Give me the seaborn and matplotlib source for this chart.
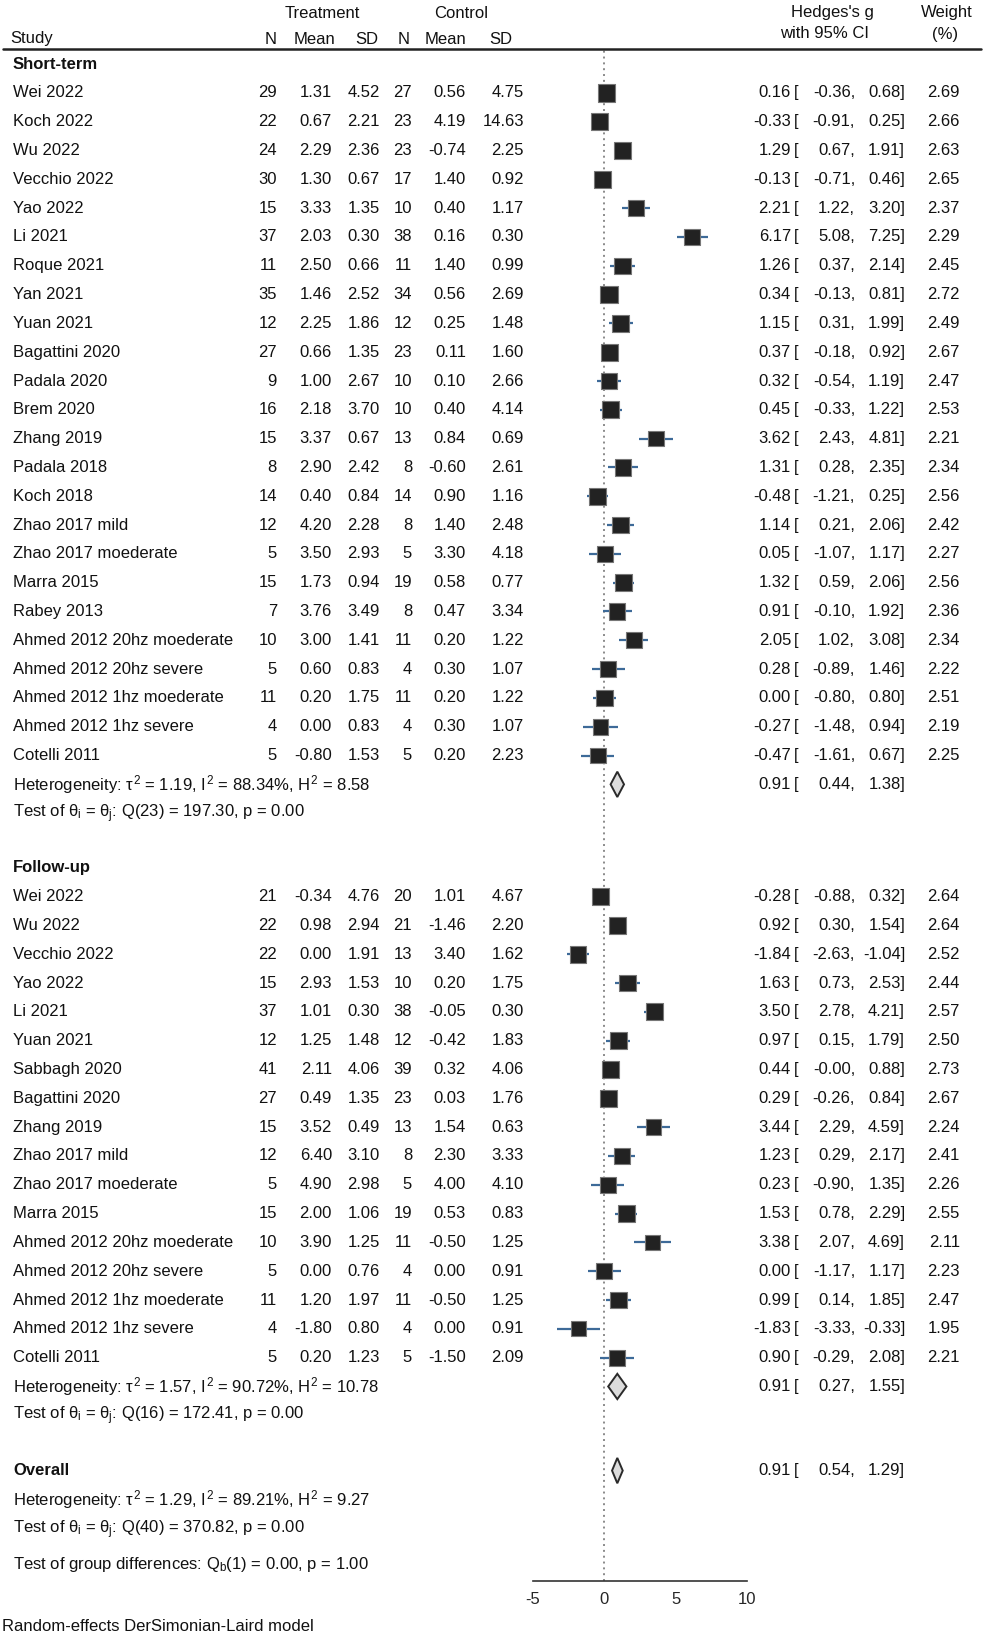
import numpy as np
import pandas as pd
import matplotlib
matplotlib.use("Agg")
import matplotlib.pyplot as plt
import matplotlib.transforms as mtransforms
import seaborn as sns

### data

short_study = ["Wei 2022", "Koch 2022", "Wu 2022", "Vecchio 2022", "Yao 2022", "Li 2021",
               "Roque 2021", "Yan 2021", "Yuan 2021", "Bagattini 2020", "Padala 2020",
               "Brem 2020", "Zhang 2019", "Padala 2018", "Koch 2018", "Zhao 2017 mild",
               "Zhao 2017 moederate", "Marra 2015", "Rabey 2013", "Ahmed 2012 20hz moederate",
               "Ahmed 2012 20hz severe", "Ahmed 2012 1hz moederate", "Ahmed 2012 1hz severe",
               "Cotelli 2011"]
short_n1 = [29, 22, 24, 30, 15, 37, 11, 35, 12, 27, 9, 16, 15, 8, 14, 12, 5, 15, 7, 10, 5, 11, 4, 5]
short_m1 = [1.31, 0.67, 2.29, 1.30, 3.33, 2.03, 2.50, 1.46, 2.25, 0.66, 1.00, 2.18, 3.37, 2.90,
            0.40, 4.20, 3.50, 1.73, 3.76, 3.00, 0.60, 0.20, 0.00, -0.80]
short_sd1 = [4.52, 2.21, 2.36, 0.67, 1.35, 0.30, 0.66, 2.52, 1.86, 1.35, 2.67, 3.70, 0.67, 2.42,
             0.84, 2.28, 2.93, 0.94, 3.49, 1.41, 0.83, 1.75, 0.83, 1.53]
short_n2 = [27, 23, 23, 17, 10, 38, 11, 34, 12, 23, 10, 10, 13, 8, 14, 8, 5, 19, 8, 11, 4, 11, 4, 5]
short_m2 = [0.56, 4.19, -0.74, 1.40, 0.40, 0.16, 1.40, 0.56, 0.25, 0.11, 0.10, 0.40, 0.84, -0.60,
            0.90, 1.40, 3.30, 0.58, 0.47, 0.20, 0.30, 0.20, 0.30, 0.20]
short_sd2 = [4.75, 14.63, 2.25, 0.92, 1.17, 0.30, 0.99, 2.69, 1.48, 1.60, 2.66, 4.14, 0.69, 2.61,
             1.16, 2.48, 4.18, 0.77, 3.34, 1.22, 1.07, 1.22, 1.07, 2.23]
short_es = [0.16, -0.33, 1.29, -0.13, 2.21, 6.17, 1.26, 0.34, 1.15, 0.37, 0.32, 0.45, 3.62, 1.31,
            -0.48, 1.14, 0.05, 1.32, 0.91, 2.05, 0.28, 0.00, -0.27, -0.47]
short_lo = [-0.36, -0.91, 0.67, -0.71, 1.22, 5.08, 0.37, -0.13, 0.31, -0.18, -0.54, -0.33, 2.43,
            0.28, -1.21, 0.21, -1.07, 0.59, -0.10, 1.02, -0.89, -0.80, -1.48, -1.61]
short_hi = [0.68, 0.25, 1.91, 0.46, 3.20, 7.25, 2.14, 0.81, 1.99, 0.92, 1.19, 1.22, 4.81, 2.35,
            0.25, 2.06, 1.17, 2.06, 1.92, 3.08, 1.46, 0.80, 0.94, 0.67]
short_w = [2.69, 2.66, 2.63, 2.65, 2.37, 2.29, 2.45, 2.72, 2.49, 2.67, 2.47, 2.53, 2.21, 2.34,
           2.56, 2.42, 2.27, 2.56, 2.36, 2.34, 2.22, 2.51, 2.19, 2.25]

fu_study = ["Wei 2022", "Wu 2022", "Vecchio 2022", "Yao 2022", "Li 2021", "Yuan 2021",
            "Sabbagh 2020", "Bagattini 2020", "Zhang 2019", "Zhao 2017 mild",
            "Zhao 2017 moederate", "Marra 2015", "Ahmed 2012 20hz moederate",
            "Ahmed 2012 20hz severe", "Ahmed 2012 1hz moederate", "Ahmed 2012 1hz severe",
            "Cotelli 2011"]
fu_n1 = [21, 22, 22, 15, 37, 12, 41, 27, 15, 12, 5, 15, 10, 5, 11, 4, 5]
fu_m1 = [-0.34, 0.98, 0.00, 2.93, 1.01, 1.25, 2.11, 0.49, 3.52, 6.40, 4.90, 2.00, 3.90, 0.00,
         1.20, -1.80, 0.20]
fu_sd1 = [4.76, 2.94, 1.91, 1.53, 0.30, 1.48, 4.06, 1.35, 0.49, 3.10, 2.98, 1.06, 1.25, 0.76,
          1.97, 0.80, 1.23]
fu_n2 = [20, 21, 13, 10, 38, 12, 39, 23, 13, 8, 5, 19, 11, 4, 11, 4, 5]
fu_m2 = [1.01, -1.46, 3.40, 0.20, -0.05, -0.42, 0.32, 0.03, 1.54, 2.30, 4.00, 0.53, -0.50, 0.00,
         -0.50, 0.00, -1.50]
fu_sd2 = [4.67, 2.20, 1.62, 1.75, 0.30, 1.83, 4.06, 1.76, 0.63, 3.33, 4.10, 0.83, 1.25, 0.91,
          1.25, 0.91, 2.09]
fu_es = [-0.28, 0.92, -1.84, 1.63, 3.50, 0.97, 0.44, 0.29, 3.44, 1.23, 0.23, 1.53, 3.38, 0.00,
         0.99, -1.83, 0.90]
fu_lo = [-0.88, 0.30, -2.63, 0.73, 2.78, 0.15, -0.00, -0.26, 2.29, 0.29, -0.90, 0.78, 2.07,
         -1.17, 0.14, -3.33, -0.29]
fu_hi = [0.32, 1.54, -1.04, 2.53, 4.21, 1.79, 0.88, 0.84, 4.59, 2.17, 1.35, 2.29, 4.69, 1.17,
         1.85, -0.33, 2.08]
fu_w = [2.64, 2.64, 2.52, 2.44, 2.57, 2.50, 2.73, 2.67, 2.24, 2.41, 2.26, 2.55, 2.11, 2.23,
        2.47, 1.95, 2.21]

# pooled estimates: short-term, follow-up, overall
pooled_es = [0.91, 0.91, 0.91]
pooled_lo = [0.44, 0.27, 0.54]
pooled_hi = [1.38, 1.55, 1.29]

het_text = [r"Heterogeneity: $\tau^2$ = 1.19, $I^2$ = 88.34%, $H^2$ = 8.58",
            r"Heterogeneity: $\tau^2$ = 1.57, $I^2$ = 90.72%, $H^2$ = 10.78",
            r"Heterogeneity: $\tau^2$ = 1.29, $I^2$ = 89.21%, $H^2$ = 9.27"]
test_text = [r"Test of $\theta_i$ = $\theta_j$: Q(23) = 197.30, p = 0.00",
             r"Test of $\theta_i$ = $\theta_j$: Q(16) = 172.41, p = 0.00",
             r"Test of $\theta_i$ = $\theta_j$: Q(40) = 370.82, p = 0.00"]
group_diff_text = r"Test of group differences: $Q_b$(1) = 0.00, p = 1.00"
footnote = "Random-effects DerSimonian-Laird model"
x_ticks = [-5, 0, 5, 10]

### build table

short = pd.DataFrame({"study": short_study, "n1": short_n1, "m1": short_m1, "sd1": short_sd1,
                      "n2": short_n2, "m2": short_m2, "sd2": short_sd2, "es": short_es,
                      "lo": short_lo, "hi": short_hi, "w": short_w})
short["row"] = np.arange(1, len(short) + 1)
fu = pd.DataFrame({"study": fu_study, "n1": fu_n1, "m1": fu_m1, "sd1": fu_sd1,
                   "n2": fu_n2, "m2": fu_m2, "sd2": fu_sd2, "es": fu_es,
                   "lo": fu_lo, "hi": fu_hi, "w": fu_w})
fu_head = short.row.max() + 3.9
fu["row"] = fu_head + np.arange(1, len(fu) + 1)
df = pd.concat([short, fu], ignore_index=True)

ov_head = fu.row.max() + 3.92
pooled_rows = [short.row.max() + 1, fu.row.max() + 1, ov_head]
het_rows = [short.row.max() + 1, fu.row.max() + 1, ov_head + 1.02]

### figure

sns.set_style("white")
plt.rcParams["font.family"] = ["Liberation Sans", "DejaVu Sans"]
plt.rcParams["mathtext.fontset"] = "custom"
plt.rcParams["mathtext.rm"] = "Liberation Sans"
plt.rcParams["mathtext.it"] = "Liberation Sans"
plt.rcParams["mathtext.bf"] = "Liberation Sans:bold"
plt.rcParams["axes.unicode_minus"] = False

W, H = 984, 1637
fig = plt.figure(figsize=(W / 100, H / 100), dpi=100)
fs = 12

# forest axes: x from -5 to 10, rows top to bottom
row0_px, row_px = 64.1, 28.81
top_px, axis_px = 49, 1581
ax = fig.add_axes([533 / W, 1 - axis_px / H, (747 - 533) / W, (axis_px - top_px) / H])
ax.set_xlim(-5, 10)
ax.set_ylim((axis_px - row0_px) / row_px, (top_px - row0_px) / row_px)

def r_of(px):
    return (px - row0_px) / row_px

ax.axvline(0, color="#8a8a8a", ls=(0, (1, 2)), lw=1.4, zorder=1)
ax.hlines(df.row, df.lo, df.hi, color="#3d6a98", lw=1.6, zorder=2)
# box area proportional to weight
sns.scatterplot(data=df, x="es", y="row", size="w", sizes=(0, 3 * 57.6), size_norm=(0, 3),
                marker="s", color="#222222", edgecolor="#777777", linewidth=0.8,
                legend=False, ax=ax, zorder=3)

for es, lo, hi, r in zip(pooled_es, pooled_lo, pooled_hi, pooled_rows):
    h = 0.44
    ax.fill([lo, es, hi, es], [r, r - h, r, r + h], facecolor="#dcdcdc",
            edgecolor="#2a2a2a", lw=1.4, zorder=3)

sns.despine(ax=ax, left=True, top=True, right=True)
ax.spines["bottom"].set_color("#333333")
ax.spines["bottom"].set_linewidth(1.2)
ax.set_xticks(x_ticks)
ax.set_yticks([])
ax.tick_params(axis="x", direction="out", length=5, width=1.2, color="#333333",
               labelsize=fs, pad=3)
ax.set_xlabel("")
ax.set_ylabel("")

# text columns: x in figure pixels, y in rows
tr = mtransforms.blended_transform_factory(fig.transFigure, ax.transData)

def put(px, r, s, ha="left", size=fs, **kw):
    ax.text(px / W, r, s, transform=tr, ha=ha, va="center", fontsize=size,
            color="#111111", **kw)

# header
put(322, r_of(13), "Treatment", ha="center")
put(461, r_of(13), "Control", ha="center")
put(832, r_of(13), "Hedges's g", ha="center")
put(825, r_of(34), "with 95% CI", ha="center")
put(947, r_of(13), "Weight", ha="center")
put(945, r_of(34), "(%)", ha="center")
put(10, r_of(39), "Study")
for px, s in zip([277, 335, 378, 410, 466, 512], ["N", "Mean", "SD", "N", "Mean", "SD"]):
    put(px, r_of(39), s, ha="right")
ax.plot([0.003, 0.997], [r_of(top_px), r_of(top_px)], transform=tr, color="#222222",
        lw=1.8, clip_on=False)

# group labels
put(13, 0, "Short-term", fontweight="bold")
put(13, fu_head, "Follow-up", fontweight="bold")
put(13, ov_head, "Overall", fontweight="bold")

# study rows
for _, d in df.iterrows():
    r = d.row
    put(13, r, d.study)
    put(277, r, f"{int(d.n1)}", ha="right")
    put(332, r, f"{d.m1:.2f}", ha="right")
    put(380, r, f"{d.sd1:.2f}", ha="right")
    put(412, r, f"{int(d.n2)}", ha="right")
    put(466, r, f"{d.m2:.2f}", ha="right")
    put(524, r, f"{d.sd2:.2f}", ha="right")
    put(791, r, f"{d.es:.2f}", ha="right")
    put(794, r, "[")
    put(855, r, f"{d.lo:.2f},", ha="right")
    put(905, r, f"{d.hi:.2f}]", ha="right")
    put(960, r, f"{d.w:.2f}", ha="right")

# pooled rows
for es, lo, hi, r in zip(pooled_es, pooled_lo, pooled_hi, pooled_rows):
    put(791, r, f"{es:.2f}", ha="right")
    put(794, r, "[")
    put(855, r, f"{lo:.2f},", ha="right")
    put(905, r, f"{hi:.2f}]", ha="right")

for s1, s2, r in zip(het_text, test_text, het_rows):
    put(13, r, s1)
    put(13, r + 1.02, s2)

put(13, r_of(1565), group_diff_text)
put(2, r_of(1627), footnote)

fig.savefig("out.png", dpi=100, facecolor="white")
